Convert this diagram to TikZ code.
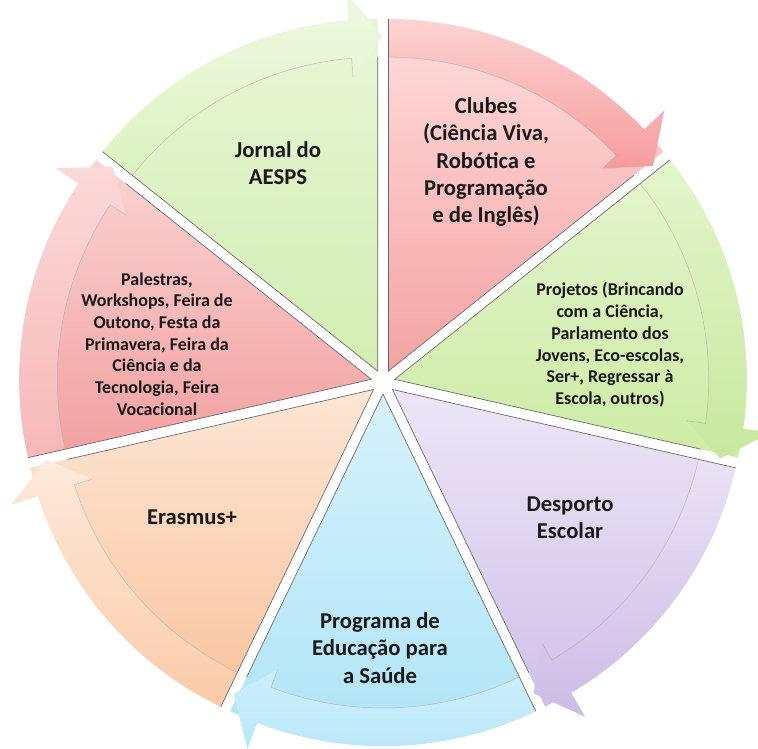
\documentclass[tikz,border=0pt]{standalone}
\usepackage{fontspec}
\setmainfont{Carlito}
% radii of the ring segments (1 unit = 0.75pt)
\def\Ro{352}  % outer edge of the arrow band
\def\Ri{314}  % inner edge of the arrow band
\def\Rbo{380} % outer barb of the arrowhead
\def\Rbi{295} % inner barb of the arrowhead
\def\Rt{335}  % arrow tip
% segment colours: pie top/bottom, band top/bottom
\definecolor{jornT}{HTML}{E8F6D6}\definecolor{jornB}{HTML}{D3EEB2}
\definecolor{jornbT}{HTML}{EEF9E1}\definecolor{jornbB}{HTML}{DCF2C0}
\definecolor{clubT}{HTML}{FFDCDC}\definecolor{clubB}{HTML}{F4A3A3}
\definecolor{clubbT}{HTML}{FDD2D2}\definecolor{clubbB}{HTML}{F59C9C}
\definecolor{projT}{HTML}{E6F5CF}\definecolor{projB}{HTML}{CDEBA5}
\definecolor{projbT}{HTML}{E4F5CC}\definecolor{projbB}{HTML}{C8E89E}
\definecolor{despT}{HTML}{EDE6F7}\definecolor{despB}{HTML}{CFC1E8}
\definecolor{despbT}{HTML}{EAE2F5}\definecolor{despbB}{HTML}{CCBCE6}
\definecolor{progT}{HTML}{D6F2FC}\definecolor{progB}{HTML}{AEE3F6}
\definecolor{progbT}{HTML}{CDEFFB}\definecolor{progbB}{HTML}{B8E7F8}
\definecolor{erasT}{HTML}{FDE6D4}\definecolor{erasB}{HTML}{F9C39E}
\definecolor{erasbT}{HTML}{FEEADB}\definecolor{erasbB}{HTML}{FACBA8}
\definecolor{palT}{HTML}{FBD3D3}\definecolor{palB}{HTML}{F2A0A0}
\definecolor{palbT}{HTML}{FCD8D8}\definecolor{palbB}{HTML}{F6B8B8}
% one segment of the cycle: #1 bisector angle, #2/#3 pie colours, #4/#5 band colours
\newcommand\cyclesegment[5]{%
  \begin{scope}[shift={(383,367)}, shift={(#1:12)}]
    \pgfmathsetmacro\sa{#1+25.714}
    \pgfmathsetmacro\ea{#1-25.714}
    \pgfmathsetmacro\ba{\ea+4.8}
    \pgfmathsetmacro\ta{\ea-0.8}
    \path[top color=#2, bottom color=#3]
      (0,0) -- (\sa:\Ro) arc[start angle=\sa, end angle=\ea, radius=\Ro] -- cycle;
    \draw[wedgeedge] (0,0) -- (\ea:\Ri);
    \path[top color=#4, bottom color=#5]
      (\sa:\Ri) -- (\sa:\Ro) arc[start angle=\sa, end angle=\ba, radius=\Ro]
      -- (\ba:\Rbo) -- (\ta:\Rt) -- (\ba:\Rbi) -- (\ba:\Ri)
      arc[start angle=\ba, end angle=\sa, radius=\Ri] -- cycle;
    \draw[bandline] (\ba:\Rbi) -- (\ba:\Ri) arc[start angle=\ba, end angle=\sa, radius=\Ri];
    \draw[wedgeedge] (0,0) -- (\sa:\Ro);
  \end{scope}}
\begin{document}
\begin{tikzpicture}[x=0.75pt, y=0.75pt,
  wedgeedge/.style={draw=black!60, line width=0.5pt, line cap=round},
  bandline/.style={draw=black!35, line width=0.4pt, opacity=0.6},
  lbl/.style={align=center, text=black!90, inner sep=0pt},
  bigtext/.style={lbl, font=\fontsize{17}{20.6}\selectfont\bfseries},
  smalltext/.style={lbl, font=\fontsize{13.5}{16.3}\selectfont\bfseries}]
\useasboundingbox (0,0) rectangle (758,749);
\clip (0,0) rectangle (758,749);

% segments, clockwise from the top
\cyclesegment{64.286}{clubT}{clubB}{clubbT}{clubbB}
\cyclesegment{12.857}{projT}{projB}{projbT}{projbB}
\cyclesegment{-38.571}{despT}{despB}{despbT}{despbB}
\cyclesegment{-90}{progT}{progB}{progbT}{progbB}
\cyclesegment{-141.43}{erasT}{erasB}{erasbT}{erasbB}
\cyclesegment{-192.86}{palT}{palB}{palbT}{palbB}
\cyclesegment{-244.29}{jornT}{jornB}{jornbT}{jornbB}

% labels
\node[bigtext] (jornal) at (278,586) {Jornal do\\AESPS};
\node[bigtext] (clubes) at (486,587) {Clubes\\(Ciência Viva,\\Robótica e\\Programação\\e de Inglês)};
\node[smalltext] (projetos) at (610,404) {Projetos (Brincando\\com a Ciência,\\Parlamento dos\\Jovens, Eco-escolas,\\Ser+, Regressar à\\Escola, outros)};
\node[bigtext] (desporto) at (570,231) {Desporto\\Escolar};
\node[bigtext] (programa) at (380,101) {Programa de\\Educação para\\a Saúde};
\node[bigtext] (erasmus) at (192,232) {Erasmus+};
\node[smalltext] (palestras) at (157,405) {Palestras,\\Workshops, Feira de\\Outono, Festa da\\Primavera, Feira da\\Ciência e da\\Tecnologia, Feira\\Vocacional};
\end{tikzpicture}
\end{document}
